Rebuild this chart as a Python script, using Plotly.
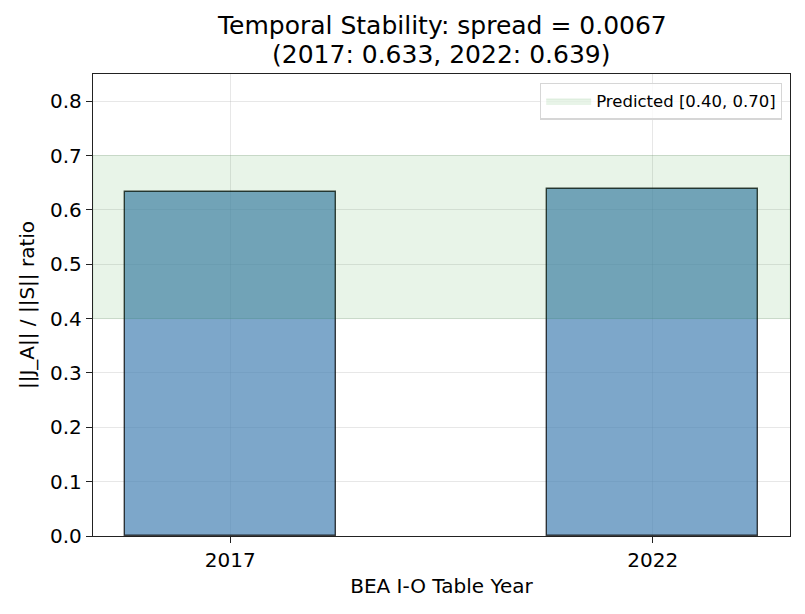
import plotly.graph_objects as go

# data
years = ["2017", "2022"]
ratios = [0.633, 0.639]
spread = 0.0067
predicted_range = [0.40, 0.70]

x_pos = list(range(len(years)))
x_range = [-0.325, len(years) - 1 + 0.325]

fig = go.Figure()

fig.add_trace(go.Bar(
    x=x_pos, y=ratios, width=0.5,
    marker=dict(color="rgba(70,130,180,0.7)",
                line=dict(color="rgba(0,0,0,0.75)", width=1.4)),
    showlegend=False,
))

# predicted band, drawn on top of the bars like axhspan
lo, hi = predicted_range
fig.add_trace(go.Scatter(
    x=[x_range[0], x_range[1], x_range[1], x_range[0], x_range[0]],
    y=[lo, lo, hi, hi, lo],
    fill="toself", fillcolor="rgba(0,128,0,0.09)",
    mode="lines", line=dict(color="rgba(0,128,0,0.1)", width=1),
    name=f"Predicted [{lo:.2f}, {hi:.2f}]",
    hoverinfo="skip",
))

title_lines = [
    f"Temporal Stability: spread = {spread:.4f}",
    f"({years[0]}: {ratios[0]:.3f}, {years[1]}: {ratios[1]:.3f})",
]

# title as two annotations, matplotlib-like line spacing
for line, shift in zip(title_lines, [49, 20]):
    fig.add_annotation(
        text=line, x=0.5, y=1, xref="paper", yref="paper",
        xanchor="center", yanchor="middle", yshift=shift, showarrow=False,
        font=dict(size=25),
    )

fig.update_layout(
    width=805, height=614,
    paper_bgcolor="white", plot_bgcolor="white",
    font=dict(family="DejaVu Sans", size=20, color="black"),
    margin=dict(l=85, r=23, t=66, b=86),
    bargap=0,
    legend=dict(x=0.9885, y=0.9816, xanchor="right", yanchor="top",
                bgcolor="rgba(255,255,255,0.8)", bordercolor="#d6d6d6",
                borderwidth=1.2, font=dict(size=16.5), itemwidth=45),
)

fig.update_xaxes(
    range=x_range, tickvals=x_pos, ticktext=years,
    title=dict(text="BEA I-O Table Year", standoff=7, font=dict(size=20)),
    showline=True, linecolor="#222", linewidth=1.4, mirror=True,
    ticks="outside", ticklen=6, tickcolor="#222",
    showgrid=True, gridcolor="rgba(176,176,176,0.3)", zeroline=False,
)
fig.update_yaxes(
    range=[0, 0.85], dtick=0.1, tickformat=".1f",
    title=dict(text="||J_A|| / ||S|| ratio", standoff=9, font=dict(size=20)),
    showline=True, linecolor="#222", linewidth=1.4, mirror=True,
    ticks="outside", ticklen=6, tickcolor="#222",
    showgrid=True, gridcolor="rgba(176,176,176,0.3)", zeroline=False,
)

fig.write_html("out.html")
